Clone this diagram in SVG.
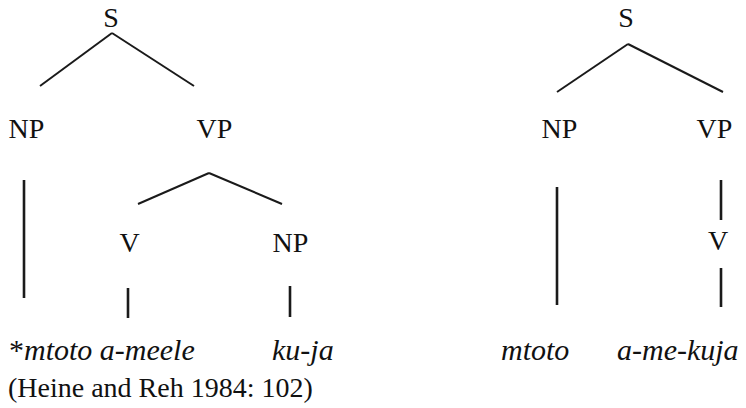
<svg xmlns="http://www.w3.org/2000/svg" width="746" height="408" viewBox="0 0 746 408">
  <style>
    .lbl { font-family: "Liberation Serif", "Times New Roman", serif; font-size: 28px; fill: #111; text-anchor: middle; }
    .word { font-family: "Liberation Serif", "Times New Roman", serif; font-size: 30px; font-style: italic; fill: #111; }
    .cite { font-family: "Liberation Serif", "Times New Roman", serif; font-size: 28px; fill: #111; }
    .br { stroke: #1a1a1a; stroke-width: 2; fill: none; stroke-linecap: butt; }
    .vt { stroke: #1a1a1a; stroke-width: 2.6; fill: none; }
  </style>
  <rect width="746" height="408" fill="#ffffff"/>

  <!-- Left tree: ungrammatical structure -->
  <g id="edges-left">
    <line class="br" x1="112" y1="33" x2="40" y2="86"/>
    <line class="br" x1="112" y1="33" x2="194" y2="86"/>
    <line class="br" x1="209" y1="173" x2="138" y2="204"/>
    <line class="br" x1="209" y1="173" x2="282" y2="204"/>
    <line class="vt" x1="24" y1="180" x2="24" y2="298"/>
    <line class="vt" x1="128" y1="288" x2="128" y2="318"/>
    <line class="vt" x1="290" y1="286" x2="290" y2="317"/>
  </g>
  <g id="l-s"><text class="lbl" x="111" y="27">S</text></g>
  <g id="l-np"><text class="lbl" x="26.5" y="138">NP</text></g>
  <g id="l-vp"><text class="lbl" x="214.5" y="138">VP</text></g>
  <g id="l-v"><text class="lbl" x="129.5" y="252">V</text></g>
  <g id="l-np2"><text class="lbl" x="290.5" y="252">NP</text></g>
  <g id="l-words">
    <text class="word" x="9" y="360"><tspan font-style="normal">*</tspan>mtoto a-meele</text>
    <text class="word" x="272" y="360">ku-ja</text>
  </g>
  <g id="citation"><text class="cite" x="8" y="397">(Heine and Reh 1984: 102)</text></g>

  <!-- Right tree: grammatical structure -->
  <g id="edges-right">
    <line class="br" x1="628" y1="44" x2="557" y2="92"/>
    <line class="br" x1="628" y1="44" x2="723" y2="92"/>
    <line class="vt" x1="557" y1="187" x2="557" y2="305"/>
    <line class="vt" x1="721" y1="180" x2="721" y2="220"/>
    <line class="vt" x1="721" y1="268" x2="721" y2="307"/>
  </g>
  <g id="r-s"><text class="lbl" x="626" y="27">S</text></g>
  <g id="r-np"><text class="lbl" x="559.5" y="138">NP</text></g>
  <g id="r-vp"><text class="lbl" x="714.5" y="138">VP</text></g>
  <g id="r-v"><text class="lbl" x="718" y="250">V</text></g>
  <g id="r-words">
    <text class="word" x="501" y="360">mtoto</text>
    <text class="word" x="617" y="360">a-me-kuja</text>
  </g>
</svg>
